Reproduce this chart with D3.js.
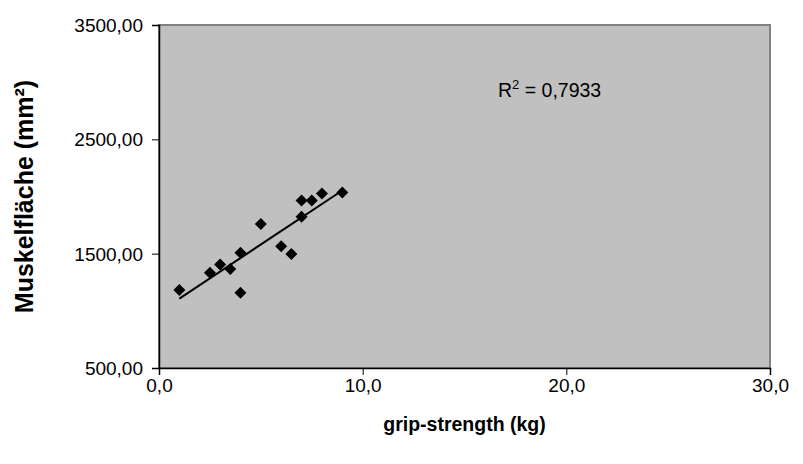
<!DOCTYPE html>
<html>
<head>
<meta charset="utf-8">
<script src="https://cdn.jsdelivr.net/npm/d3@7"></script>
<style>
  html, body { margin: 0; padding: 0; background: #ffffff; }
  svg { display: block; font-family: "Liberation Sans", Arial, sans-serif; }
</style>
</head>
<body>
<svg id="chart" width="803" height="464"></svg>
<script>
// Grip strength (kg) against muscle cross-sectional area (mm²)
const gripStrength = [1.0, 2.5, 3.0, 3.5, 4.0, 4.0, 5.0, 6.0, 6.5, 7.0, 7.0, 7.5, 8.0, 9.0];
const muscleArea   = [1182, 1333, 1406, 1365, 1508, 1158, 1759, 1564, 1497, 1823, 1966, 1966, 2027, 2036];
const xTicks = [0, 10, 20, 30];
const yTicks = [500, 1500, 2500, 3500];
const rSquaredLabel = "0,7933";

const svg = d3.select("#chart");
const plot = { left: 159, right: 770, top: 25, bottom: 368 };

const x = d3.scaleLinear().domain([0, 30]).range([plot.left, plot.right]);
const y = d3.scaleLinear().domain([500, 3500]).range([plot.bottom, plot.top]);

const fmtX = v => d3.format(".1f")(v).replace(".", ",");
const fmtY = v => d3.format(".2f")(v).replace(".", ",");

// plot background
svg.append("rect")
  .attr("x", plot.left).attr("y", plot.top)
  .attr("width", plot.right - plot.left).attr("height", plot.bottom - plot.top)
  .attr("fill", "#c0c0c0")
  .attr("stroke", "#808080").attr("stroke-width", 2);

// axes
const xAxis = d3.axisBottom(x).tickValues(xTicks).tickFormat(fmtX).tickSizeOuter(0).tickSize(7).tickPadding(4);
const yAxis = d3.axisLeft(y).tickValues(yTicks).tickFormat(fmtY).tickSizeOuter(0).tickSize(7).tickPadding(9);

const gx = svg.append("g").attr("transform", `translate(0,${plot.bottom})`).call(xAxis);
const gy = svg.append("g").attr("transform", `translate(${plot.left},0)`).call(yAxis);

[gx, gy].forEach(g => {
  g.attr("font-size", null).attr("font-family", null);
  g.select(".domain").attr("stroke", "#000").attr("stroke-width", 1.5);
  g.selectAll(".tick line").attr("stroke", "#000").attr("stroke-width", 1);
  g.selectAll(".tick text")
    .attr("fill", "#000")
    .style("font-family", "'Liberation Sans', Arial, sans-serif")
    .style("font-size", "19px");
});
gy.selectAll(".tick text").attr("dy", "0.35em");

// least-squares trendline
const n = gripStrength.length;
const mx = d3.mean(gripStrength), my = d3.mean(muscleArea);
let sxy = 0, sxx = 0;
for (let i = 0; i < n; i++) {
  sxy += (gripStrength[i] - mx) * (muscleArea[i] - my);
  sxx += (gripStrength[i] - mx) ** 2;
}
const slope = sxy / sxx, intercept = my - slope * mx;
const [x0, x1] = d3.extent(gripStrength);

svg.append("line")
  .attr("x1", x(x0)).attr("y1", y(intercept + slope * x0))
  .attr("x2", x(x1)).attr("y2", y(intercept + slope * x1))
  .attr("stroke", "#000").attr("stroke-width", 2);

// diamond markers
const r = 6;
svg.append("g").selectAll("path")
  .data(gripStrength.map((g, i) => [g, muscleArea[i]]))
  .join("path")
  .attr("transform", d => `translate(${x(d[0])},${y(d[1])})`)
  .attr("d", `M0,${-r}L${r},0L0,${r}L${-r},0Z`)
  .attr("fill", "#000");

// R² annotation
const rt = svg.append("text")
  .attr("x", 498).attr("y", 97)
  .attr("fill", "#000")
  .style("font-size", "19.5px");
rt.append("tspan").text("R");
rt.append("tspan").attr("dy", -8).style("font-size", "13px").text("2");
rt.append("tspan").attr("dy", 8).text(" = " + rSquaredLabel);

// axis titles
svg.append("text")
  .attr("x", (plot.left + plot.right) / 2).attr("y", 431)
  .attr("text-anchor", "middle")
  .style("font-size", "19.5px").style("font-weight", "bold")
  .text("grip-strength (kg)");

svg.append("text")
  .attr("transform", `translate(33,${(plot.top + plot.bottom) / 2}) rotate(-90)`)
  .attr("text-anchor", "middle")
  .style("font-size", "25px").style("font-weight", "bold")
  .text("Muskelfläche (mm²)");
</script>
</body>
</html>
